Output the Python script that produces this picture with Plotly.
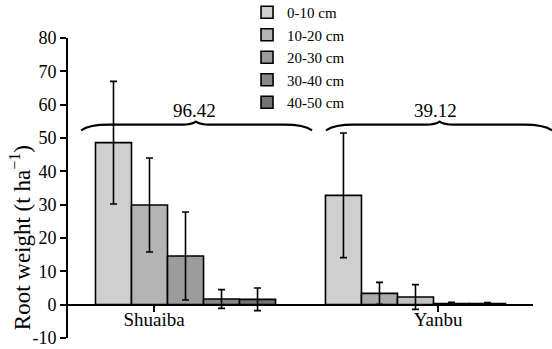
import plotly.graph_objects as go

sites = ["Shuaiba", "Yanbu"]
depths = ["0-10 cm", "10-20 cm", "20-30 cm", "30-40 cm", "40-50 cm"]
# values per depth: [Shuaiba, Yanbu]
weight = {
    "0-10 cm": [48.6, 32.8],
    "10-20 cm": [29.9, 3.4],
    "20-30 cm": [14.6, 2.3],
    "30-40 cm": [1.7, 0.3],
    "40-50 cm": [1.6, 0.3],
}
err = {
    "0-10 cm": [18.4, 18.7],
    "10-20 cm": [14.1, 3.3],
    "20-30 cm": [13.2, 3.7],
    "30-40 cm": [2.8, 0.4],
    "40-50 cm": [3.4, 0.3],
}
totals = ["96.42", "39.12"]
y_ticks = [-10, 0, 10, 20, 30, 40, 50, 60, 70, 80]

colors = {
    "0-10 cm": ["#cfcfcf", "#cfcfcf"],
    "10-20 cm": ["#b4b4b4", "#ababab"],
    "20-30 cm": ["#9c9c9c", "#c2c2c2"],
    "30-40 cm": ["#888888", "#888888"],
    "40-50 cm": ["#747474", "#747474"],
}

FONT = "Liberation Serif"
xpos = list(range(len(sites)))
XR = [-0.511, 1.511]
YR = [-10, 80]

fig = go.Figure()
for d in depths:
    fig.add_trace(go.Bar(
        x=xpos, y=weight[d], name=d,
        marker=dict(color=colors[d], line=dict(color="black", width=1.6)),
        error_y=dict(type="data", array=err[d], color="black", thickness=1.6, width=3.5),
    ))

def px(x):
    return (x - XR[0]) / (XR[1] - XR[0])

def py(y):
    return (y - YR[0]) / (YR[1] - YR[0])

def brace(x0, x1, xm, y, drop=1.7, rise=0.9, d=0.12):
    pts = [
        f"M {px(x0)},{py(y - drop)}",
        f"Q {px(x0 + d*0.3)},{py(y)} {px(x0 + d)},{py(y)}",
        f"L {px(xm - d*0.5)},{py(y)}",
        f"Q {px(xm - 0.02)},{py(y)} {px(xm)},{py(y + rise)}",
        f"Q {px(xm + 0.02)},{py(y)} {px(xm + d*0.5)},{py(y)}",
        f"L {px(x1 - d)},{py(y)}",
        f"Q {px(x1 - d*0.3)},{py(y)} {px(x1)},{py(y - drop)}",
    ]
    return " ".join(pts)

brace_spans = [(-0.454, 0.55, 0.045), (0.611, 1.593, 1.105)]
label_x = [0.038, 1.085]
for (x0, x1, xm), lx, t in zip(brace_spans, label_x, totals):
    fig.add_shape(type="path", xref="paper", yref="paper",
                  path=brace(x0, x1, xm, 54.0),
                  line=dict(color="black", width=2.2))
    fig.add_annotation(x=lx, y=54.6, xref="x", yref="y", text=t,
                       showarrow=False, yanchor="bottom",
                       font=dict(family=FONT, size=19, color="black"))

# y-axis title as rotated text (positioned as in the reference)
fig.add_annotation(x=-0.103, y=0.333, xref="paper", yref="paper",
                   text="Root weight (t ha<sup>\u22121</sup>)", textangle=-90,
                   showarrow=False, xanchor="center", yanchor="middle",
                   font=dict(family=FONT, size=23, color="black"))

fig.update_layout(
    width=552, height=349,
    margin=dict(l=68, r=19, t=38, b=11, autoexpand=False),
    paper_bgcolor="white", plot_bgcolor="white",
    barmode="group", bargap=0.217, bargroupgap=0,
    font=dict(family=FONT, size=18, color="black"),
    showlegend=True,
    legend=dict(x=0.385, y=1.14, xanchor="left", yanchor="top",
                font=dict(family=FONT, size=15), bgcolor="rgba(0,0,0,0)",
                itemwidth=30, tracegroupgap=0),
    xaxis=dict(range=XR, anchor="free", position=py(0),
               tickvals=[-0.137, 1.098], ticktext=sites,
               ticks="outside", ticklen=6, tickwidth=2, tickcolor="black",
               ticklabelstandoff=-8,
               showline=True, linecolor="black", linewidth=2,
               showgrid=False, zeroline=False,
               tickfont=dict(family=FONT, size=19)),
    yaxis=dict(range=YR, tickvals=y_ticks, ticktext=[str(v) for v in y_ticks],
               ticks="outside", ticklen=6, tickwidth=2, tickcolor="black",
               ticklabeloverflow="allow",
               showline=True, linecolor="black", linewidth=2,
               showgrid=False, zeroline=False,
               tickfont=dict(family=FONT, size=18)),
)

fig.write_html("out.html", config={"displayModeBar": False},
               post_script="document.body.style.margin='0';")
